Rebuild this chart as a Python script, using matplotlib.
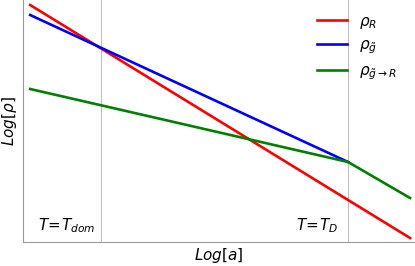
import matplotlib

matplotlib.use("Agg")
import matplotlib.pyplot as plt

plt.rcParams["mathtext.fontset"] = "dejavusans"

# log a positions: T_dom at 0, T_D at 1
red_x = [-0.287, 1.251]
red_y = [237, 4]
blue_x = [-0.287, 1.0]
blue_y = [227, 80]
green_x = [-0.287, 1.0, 1.251]
green_y = [153, 80, 44]
vlines_x = [0.0, 1.0]
labels = [r"$\rho_R$", r"$\rho_{\tilde{g}}$", r"$\rho_{\tilde{g}\rightarrow R}$"]

fig = plt.figure(figsize=(4.15, 2.66), dpi=100)
ax = fig.add_axes([23 / 415, 24 / 266, 1 - 23 / 415, 1 - 24 / 266])

ax.plot(red_x, red_y, color="#ff0000", lw=1.9, label=labels[0])
ax.plot(blue_x, blue_y, color="#0000ff", lw=1.9, label=labels[1])
ax.plot(green_x, green_y, color="#008000", lw=1.9, label=labels[2])
for x in vlines_x:
  ax.axvline(x, color="#bbbbbb", lw=0.7, zorder=0)

ax.set_xlim(-0.316, 1.271)
ax.set_ylim(0, 242)
ax.set_xticks([])
ax.set_yticks([])
for side in ("top", "right"):
  ax.spines[side].set_visible(False)
for side in ("left", "bottom"):
  ax.spines[side].set_color("#999999")
  ax.spines[side].set_linewidth(0.8)

ax.text(-0.025, 12, r"$T\!=\!T_{dom}$", ha="right", va="baseline", fontsize=11)
ax.text(0.96, 12, r"$T\!=\!T_D$", ha="right", va="baseline", fontsize=11)

ax.set_xlabel(r"$Log[a]$", fontsize=11, labelpad=3)
ax.set_ylabel(r"$Log[\rho]$", fontsize=11, labelpad=3)

ax.legend(loc="upper right", frameon=False, fontsize=11, handlelength=2.0,
          bbox_to_anchor=(0.99, 1.0), labelspacing=0.45, handletextpad=0.8)

fig.savefig("out.png", dpi=100)
